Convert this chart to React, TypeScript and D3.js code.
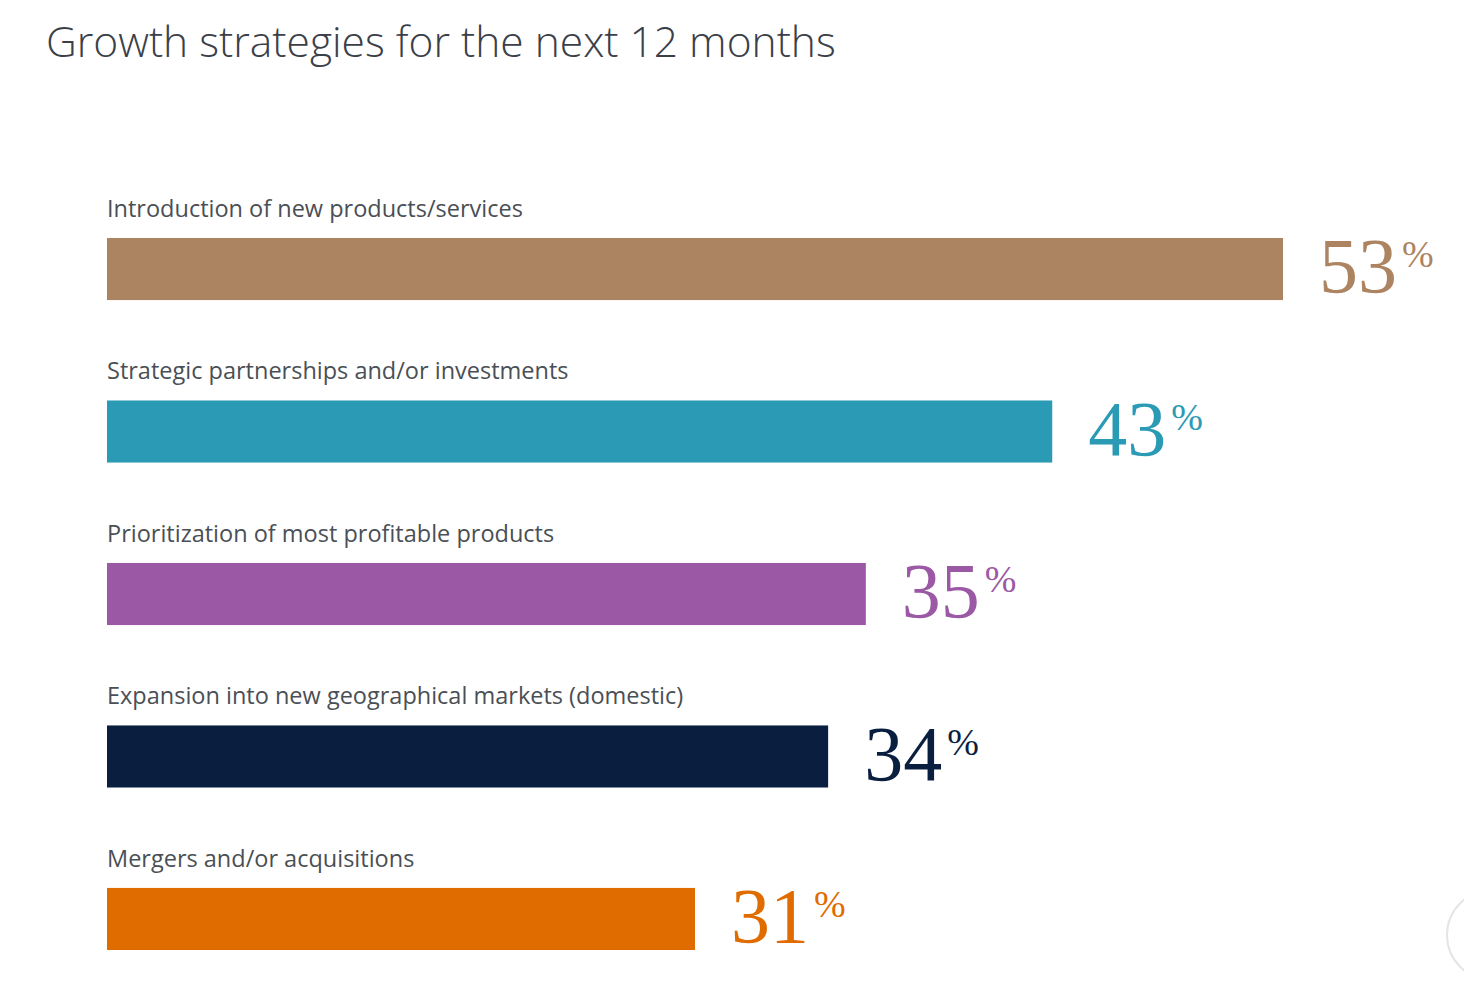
import React from "react";
import * as d3 from "d3";

const categories = [
  "Introduction of new products/services",
  "Strategic partnerships and/or investments",
  "Prioritization of most profitable products",
  "Expansion into new geographical markets (domestic)",
  "Mergers and/or acquisitions",
];
// printed percentages
const values = [53, 43, 35, 34, 31];
// bar lengths as drawn in the picture (percent on the bar scale)
const barLengths = [53, 42.6, 34.2, 32.5, 26.5];
const colors = ["#AD8462", "#2B9AB5", "#9B58A5", "#0A1F40", "#E06C00"];
const title = "Growth strategies for the next 12 months";

const W = 1464;
const H = 990;

export default function App() {
  const x = d3.scaleLinear().domain([0, 53]).range([107, 1283]);
  const y = d3
    .scaleBand<number>()
    .domain(d3.range(categories.length))
    .range([238, 950])
    .paddingInner(0.618)
    .paddingOuter(0);
  const bh = y.bandwidth();
  return (
    <svg
      width={W}
      height={H}
      style={{ position: "absolute", left: 0, top: 0, background: "#fff" }}
    >
      <text
        x={46}
        y={57}
        fontFamily="'Open Sans', sans-serif"
        fontWeight={300}
        fontSize={42.5}
        fill="#3b4048"
      >
        {title}
      </text>
      {categories.map((c, i) => {
        const y0 = y(i) as number;
        const xe = x(barLengths[i]);
        return (
          <g key={c}>
            <text
              x={x(0)}
              y={y0 - 21}
              fontFamily="'Open Sans', sans-serif"
              fontSize={23.5}
              fill="#4a4f55"
            >
              {c}
            </text>
            <rect x={x(0)} y={y0} width={xe - x(0)} height={bh} fill={colors[i]} />
            <text
              x={xe + 36}
              y={y0 + bh - 8}
              fontFamily="'Liberation Serif', serif"
              fontSize={78}
              fill={colors[i]}
            >
              {values[i]}
              <tspan fontSize={38} dx={5} dy={-25}>
                %
              </tspan>
            </text>
          </g>
        );
      })}
      <circle cx={1492} cy={935} r={45} fill="none" stroke="#e3e5e6" strokeWidth={2} />
    </svg>
  );
}
